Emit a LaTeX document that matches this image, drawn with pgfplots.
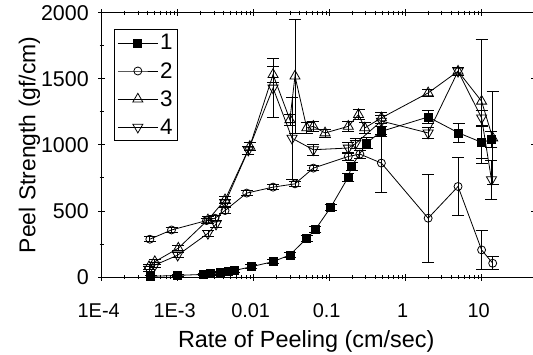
\documentclass[border=0pt]{standalone}
\usepackage{pgfplots}
\pgfplotsset{compat=1.18}
\usepackage{pgfplotstable}
\usepackage{fontspec}
\setmainfont{Liberation Sans}

\pgfplotstableread{
x y ey
4.4e-4 5 10
1.0e-3 12 10
2.2e-3 20 10
2.7e-3 25 10
3.6e-3 32 10
4.6e-3 42 10
5.5e-3 48 10
9.3e-3 78 15
0.018 116 15
0.030 167 20
0.050 293 20
0.065 360 25
0.103 526 25
0.176 756 30
0.195 837 30
0.307 1014 40
0.48 1102 40
1.98 1211 50
5.0 1090 75
10 1019 120
13.5 1039 60
}\sone

\pgfplotstableread{
x y ey
4.3e-4 286 20
8.3e-4 356 20
2.4e-3 427 20
3.1e-3 445 20
4.2e-3 503 20
8.1e-3 635 20
0.018 680 20
0.035 705 20
0.061 824 20
0.176 912 30
0.25 930 30
0.48 862 220
1.98 445 335
4.9 685 220
10 205 150
14 104 50
}\stwo

\pgfplotstableread{
x y ey
4.2e-4 78 20
5.0e-4 116 20
1.02e-3 218 20
2.5e-3 432 25
4.2e-3 584 25
8.9e-3 988 30
0.018 1532 60
0.030 1190 40
0.035 1520 430
0.050 1128 40
0.061 1140 40
0.087 1090 30
0.176 1140 40
0.24 1229 40
0.29 1128 40
0.48 1204 40
1.98 1393 30
4.9 1557 30
10 1330 470
14 1052 350
}\sthree

\pgfplotstableread{
x y ey
4.2e-4 60 20
5.0e-4 90 20
1.0e-3 165 20
2.5e-3 330 25
3.2e-3 400 25
4.2e-3 560 25
8.5e-3 960 30
0.018 1430 225
0.032 1050 310
0.061 963 40
0.176 976 40
0.22 1010 40
0.48 1180 40
1.98 1090 40
4.9 1557 30
10 1204 60
13.5 736 150
}\sfour

\begin{document}
\begin{tikzpicture}
\begin{axis}[
  scale only axis, width=433bp, height=264.3bp,
  xmode=log, xmin=1e-4, xmax=50, ymin=0, ymax=2000,
  xtick={1e-4,1e-3,0.01,0.1,1,10},
  xticklabels={1E-4,1E-3,0.01,0.1,1,10},
  ytick={0,500,1000,1500,2000},
  minor ytick={250,750,1250,1750},
  /pgf/number format/.cd, 1000 sep={}, assume math mode=true, /pgfplots/.cd,
  tick align=center, major tick length=7bp, minor tick length=4bp,
  xticklabel style={font=\fontsize{20}{23}\selectfont, yshift=-20bp, xshift=-3bp},
  yticklabel style={font=\fontsize{21.5}{25}\selectfont, xshift=-6bp},
  xlabel={Rate of Peeling (cm/sec)},
  ylabel={Peel Strength (gf/cm)},
  xlabel style={font=\fontsize{23.5}{28}\selectfont, yshift=-6bp, xshift=-12bp},
  ylabel style={font=\fontsize{23}{27}\selectfont, yshift=-6bp},
  axis line style={line width=0.9bp},
  tick style={line width=0.8bp, black},
  every axis plot/.append style={black, line width=0.8bp},
  error bars/error bar style={line width=0.8bp},
  error bars/error mark options={rotate=90, mark size=6bp, line width=0.8bp},
  legend style={at={(axis description cs:0.0284,0.938)}, anchor=north west,
    draw=black, line width=0.9bp, font=\fontsize{22.5}{26}\selectfont,
    inner sep=3bp, row sep=7bp},
  legend cell align=left,
  legend image code/.code={\draw[mark repeat=2,mark phase=2,#1] plot coordinates {(0bp,0bp) (20bp,0bp) (40bp,0bp)};},
]
\coordinate (SW) at (rel axis cs:0,0);
\addplot+[black, mark=square*, mark size=4bp, mark options={fill=black, solid}, error bars/.cd, y dir=both, y explicit] table[x=x, y=y, y error=ey]{\sone};
\addlegendentry{1}
\addplot+[black, mark=o, mark size=4bp, mark options={fill=white, solid}, error bars/.cd, y dir=both, y explicit] table[x=x, y=y, y error=ey]{\stwo};
\addlegendentry{2}
\addplot+[black, mark=triangle, mark size=5.8bp, mark options={fill=white, solid}, error bars/.cd, y dir=both, y explicit] table[x=x, y=y, y error=ey]{\sthree};
\addlegendentry{3}
\addplot+[black, mark=triangle, mark size=5.8bp, mark options={fill=white, solid, rotate=180}, error bars/.cd, y dir=both, y explicit] table[x=x, y=y, y error=ey]{\sfour};
\addlegendentry{4}
\end{axis}
\pgfresetboundingbox
\path[use as bounding box] ([xshift=-101.7bp,yshift=-78bp]SW) rectangle ([xshift=431.3bp,yshift=277bp]SW);
\end{tikzpicture}
\end{document}
